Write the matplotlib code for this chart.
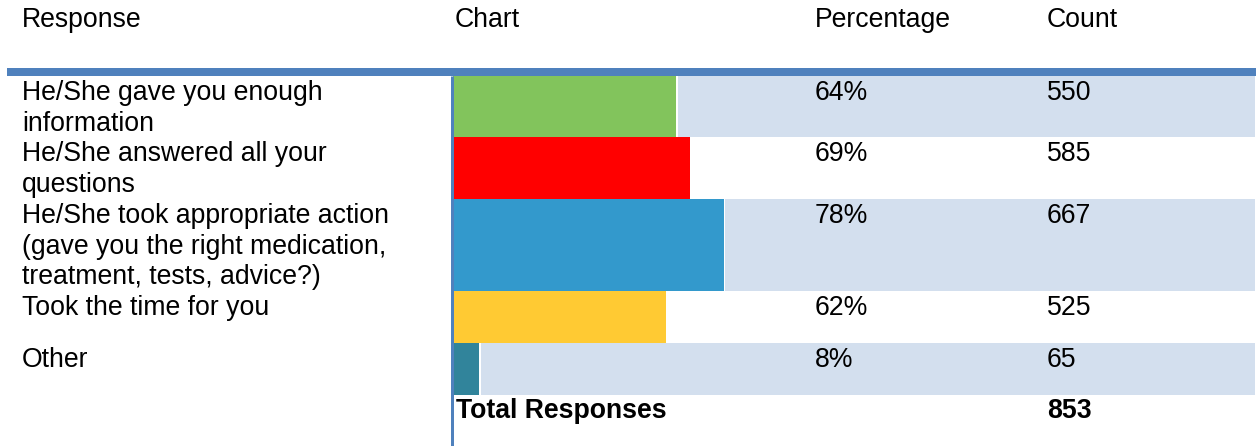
import matplotlib
matplotlib.use("Agg")
import matplotlib.pyplot as plt

# ---- data ----
responses = [
    "He/She gave you enough\ninformation",
    "He/She answered all your\nquestions",
    "He/She took appropriate action\n(gave you the right medication,\ntreatment, tests, advice?)",
    "Took the time for you",
    "Other",
]
percentages = [64, 69, 78, 62, 8]
counts = [550, 585, 667, 525, 65]
total_responses = 853
headers = ["Response", "Chart", "Percentage", "Count"]
bar_colors = ["#82C45C", "#FF0000", "#3399CC", "#FFCA33", "#31849B"]

# ---- layout (pixels) ----
W, H = 1256, 446
DPI = 100
FS = 19.2
PX2PT = 72.0 / DPI
col_x = [22, 455, 815, 1047]
chart_left = 453
chart_right = 1255
bar_full = 346
line_h = 30.7
min_row_h = 52
first_top = 76
header_line_color = "#4F81BD"
shade_color = "#D3DFEE"

fig = plt.figure(figsize=(W / DPI, H / DPI), dpi=DPI)
ax = fig.add_axes([0, 0, 1, 1])
ax.set_xlim(0, W)
ax.set_ylim(H, 0)
ax.axis("off")

font = dict(family=["Liberation Sans", "DejaVu Sans"], fontsize=FS, color="black")

# headers
for x, h in zip(col_x, headers):
    ax.text(x, 27.3, h, va="baseline", ha="left", **font)

# rows
top = first_top
for i, (lab, pct, cnt) in enumerate(zip(responses, percentages, counts)):
    lines = lab.split("\n")
    rh = max(min_row_h, line_h * len(lines))
    center = top + rh / 2
    if i % 2 == 0:
        ax.barh(center, chart_right - chart_left, left=chart_left, height=rh,
                color=shade_color, linewidth=0, zorder=1)
    frac = cnt / total_responses
    ax.barh(center, frac * bar_full + 1.5, left=chart_left, height=rh,
            color="white", linewidth=0, zorder=2)
    ax.barh(center, frac * bar_full, left=chart_left, height=rh,
            color=bar_colors[i], linewidth=0, zorder=3)
    base = top + 24
    for j, ln in enumerate(lines):
        ax.text(col_x[0], base + j * line_h, ln, va="baseline", ha="left", zorder=5, **font)
    ax.text(col_x[2], base, f"{pct}%", va="baseline", ha="left", zorder=5, **font)
    ax.text(col_x[3], base, f"{cnt}", va="baseline", ha="left", zorder=5, **font)
    top += rh

# total row
ax.text(456, top + 23, "Total Responses", va="baseline", ha="left", fontweight="bold", zorder=5, **font)
ax.text(col_x[3], top + 23, f"{total_responses}", va="baseline", ha="left", fontweight="bold", zorder=5, **font)

# rules
ax.hlines(72, 7, W, colors=header_line_color, linewidth=8 * PX2PT, zorder=6)
ax.vlines(451.5, 76, H, colors=header_line_color, linewidth=3 * PX2PT, zorder=6)
ax.vlines(1255.5, 76, H, colors=header_line_color, linewidth=1 * PX2PT, zorder=6)

fig.savefig("out.png", dpi=DPI)
